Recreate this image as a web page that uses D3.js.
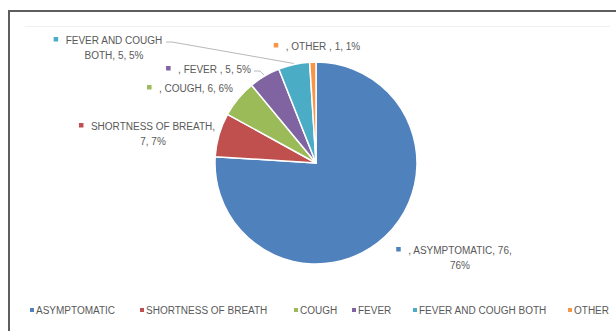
<!DOCTYPE html>
<html><head><meta charset="utf-8">
<script src="https://cdn.jsdelivr.net/npm/d3@7"></script>
<style>html,body{margin:0;padding:0;background:#fff;}svg{display:block;}</style>
</head><body>
<script>
const categories = ["ASYMPTOMATIC","SHORTNESS OF BREATH","COUGH","FEVER","FEVER AND COUGH BOTH","OTHER"];
const values = [76,7,6,5,5,1];
const percents = ["76%","7%","6%","5%","5%","1%"];
const labelLines = [
  [", ASYMPTOMATIC, 76,","76%"],
  ["SHORTNESS OF BREATH,","7, 7%"],
  [", COUGH, 6, 6%"],
  [", FEVER , 5, 5%"],
  ["FEVER AND COUGH","BOTH, 5, 5%"],
  [", OTHER , 1, 1%"]
];
const colors = ["#4F81BD","#C0504D","#9BBB59","#8064A2","#4BACC6","#F79646"];

// layout (label anchors: centre x of text block, first baseline y)
const labelLayout = [
  {cx:460, y:254, lead:false},
  {cx:153, y:130, lead:false},
  {cx:196, y:92,  lead:false},
  {cx:214.5, y:73, lead:true, lx1:254, ly1:71},
  {cx:114, y:44,  lead:true,  lx1:166, ly1:42},
  {cx:323, y:50,  lead:false}
];
const legendX = [30,140,294,352,413,568];

const W=616,H=331;
const svg=d3.select("body").append("svg").attr("width",W).attr("height",H);
svg.append("rect").attr("width",W).attr("height",H).attr("fill","#fff");
svg.append("rect").attr("x",9).attr("y",11).attr("width",W).attr("height",H)
  .attr("fill","none").attr("stroke","#5e5e5e").attr("stroke-width",2);
svg.append("line").attr("x1",25).attr("x2",610).attr("y1",26.5).attr("y2",26.5)
  .attr("stroke","#f0f0f0").attr("stroke-width",1);

const cx=316, cy=163, r=101;
const color=d3.scaleOrdinal().domain(categories).range(colors);
const pie=d3.pie().sort(null).value(d=>d.v);
const data=categories.map((c,i)=>({c,v:values[i],i}));
const arcs=pie(data);
const arc=d3.arc().innerRadius(0).outerRadius(r);
const g=svg.append("g").attr("transform",`translate(${cx},${cy})`);
g.selectAll("path").data(arcs).join("path")
  .attr("d",arc).attr("fill",d=>color(d.data.c))
  .attr("stroke","#fff").attr("stroke-width",1.5).attr("stroke-linejoin","round");

const font="'Liberation Sans',Arial,sans-serif";
const fs=10;
const tc="#595959";

// leader lines
arcs.forEach((a,i)=>{
  const L=labelLayout[i];
  if(!L.lead) return;
  const m=(a.startAngle+a.endAngle)/2;
  const rr = r+1;
  const px=cx+Math.sin(m)*rr, py=cy-Math.cos(m)*rr;
  svg.append("polyline").attr("points",`${L.lx1},${L.ly1} ${L.lx1+6},${L.ly1} ${px},${py}`)
    .attr("fill","none").attr("stroke","#a6a6a6").attr("stroke-width",0.8);
});

// data labels
arcs.forEach((a,i)=>{
  const L=labelLayout[i];
  const lines=labelLines[i];
  const lg=svg.append("g");
  lines.forEach((t,j)=>{
    const tx=lg.append("text").attr("x",L.cx).attr("y",L.y+j*15)
      .attr("text-anchor","middle").attr("font-family",font).attr("font-size",fs)
      .attr("fill",tc).text(t);
    if(j===0){
      const bb=tx.node().getBBox();
      lg.append("rect").attr("x",bb.x-12).attr("y",L.y-7).attr("width",4.5).attr("height",4.5)
        .attr("fill",color(a.data.c));
    }
  });
});

// legend
const leg=svg.append("g").attr("transform","translate(0,314)");
categories.forEach((c,i)=>{
  const it=leg.append("g").attr("transform",`translate(${legendX[i]},0)`);
  it.append("rect").attr("x",0).attr("y",-6).attr("width",4).attr("height",4).attr("fill",color(c));
  it.append("text").attr("x",6).attr("y",0).attr("font-family",font).attr("font-size",fs)
    .attr("fill",tc).text(c);
});
</script>
</body></html>
